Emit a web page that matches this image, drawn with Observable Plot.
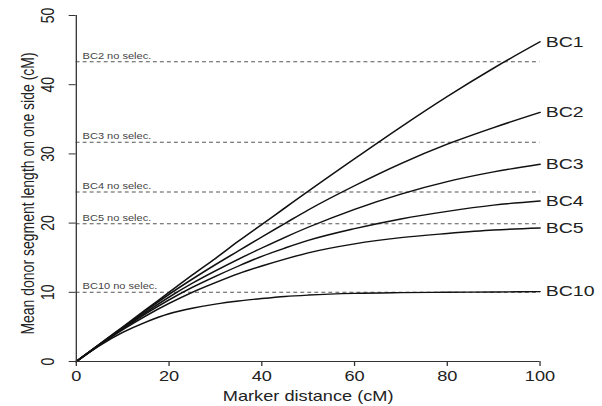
<!DOCTYPE html>
<html>
<head>
<meta charset="utf-8">
<script src="https://cdn.jsdelivr.net/npm/d3@7"></script>
<script src="https://cdn.jsdelivr.net/npm/@observablehq/plot@0.6"></script>
<style>
  html, body { margin: 0; padding: 0; background: #fff; }
  #chart { width: 463px; transform: scaleX(1.3); transform-origin: 0 0; }
</style>
</head>
<body>
<div id="chart"></div>
<script>
// Marker distance (cM)
const distances = [0, 5, 10, 15, 20, 25, 30, 35, 40, 45, 50, 60, 70, 80, 90, 100];
// Mean donor segment length on one side (cM)
const bc1  = [0, 2.5, 5.0, 7.5, 10.0, 12.5, 14.9, 17.4, 19.8, 22.2, 24.6, 29.3, 33.9, 38.3, 42.4, 46.2];
const bc2  = [0, 2.5, 4.9, 7.35, 9.7, 11.9, 14.0, 16.0, 18.0, 19.95, 21.9, 25.4, 28.6, 31.4, 33.8, 36.0];
const bc3  = [0, 2.45, 4.8, 7.1, 9.3, 11.3, 13.1, 14.8, 16.4, 17.95, 19.4, 22.0, 24.2, 26.0, 27.4, 28.5];
const bc4  = [0, 2.4, 4.7, 6.9, 8.9, 10.7, 12.3, 13.8, 15.2, 16.4, 17.5, 19.2, 20.6, 21.7, 22.6, 23.2];
const bc5  = [0, 2.4, 4.6, 6.6, 8.4, 10.0, 11.4, 12.7, 13.8, 14.8, 15.7, 17.0, 17.9, 18.5, 19.0, 19.3];
const bc10 = [0, 2.3, 4.2, 5.7, 6.9, 7.7, 8.3, 8.75, 9.1, 9.4, 9.6, 9.85, 9.95, 10.0, 10.05, 10.1];
const seriesNames = ["BC1", "BC2", "BC3", "BC4", "BC5", "BC10"];
const seriesValues = [bc1, bc2, bc3, bc4, bc5, bc10];

// No-selection reference levels
const noSelecLabels = ["BC2 no selec.", "BC3 no selec.", "BC4 no selec.", "BC5 no selec.", "BC10 no selec."];
const noSelecLevels = [43.3, 31.7, 24.5, 19.9, 10.0];

// Axes
const xTicks = [0, 20, 40, 60, 80, 100];
const yTicks = [0, 10, 20, 30, 40, 50];
const xLabel = "Marker distance (cM)";
const yLabel = "Mean donor segment length on one side (cM)";

const table = seriesNames.flatMap((s, i) =>
  distances.map((d, j) => ({series: s, d, v: seriesValues[i][j]})));
const ends = seriesNames.map((s, i) => ({series: s, d: distances[distances.length - 1], v: seriesValues[i][seriesValues[i].length - 1]}));
const refs = noSelecLabels.map((l, i) => ({label: l, v: noSelecLevels[i]}));

const chart = Plot.plot({
  width: 463,
  height: 406,
  marginLeft: 58.2,
  marginRight: 48.1,
  marginTop: 15,
  marginBottom: 45,
  style: {fontFamily: "'Liberation Sans', Arial, Helvetica, sans-serif", fontSize: "14px", color: "#222", background: "#fff"},
  x: {domain: [0, 100]},
  y: {domain: [0, 50]},
  marks: [
    Plot.ruleY(refs, {y: "v", stroke: "#555", strokeWidth: 1, strokeDasharray: "3,2.4"}),
    Plot.text(refs, {x: 0, y: "v", text: "label", textAnchor: "start", dx: 4.8, dy: -6, fontSize: 8.5, fill: "#444"}),
    Plot.line(table, {x: "d", y: "v", z: "series", stroke: "#111", strokeWidth: 1.4, curve: "monotone-x"}),
    Plot.text(ends, {x: "d", y: "v", text: "series", textAnchor: "start", dx: 4.4, fontSize: 15, fill: "#222"}),
    Plot.ruleY([0], {stroke: "#333"}),
    Plot.ruleX([0], {stroke: "#333"}),
    Plot.axisX({ticks: xTicks, tickSize: 5, tickPadding: 5, fontSize: 14, label: null, stroke: "#333"}),
    Plot.axisY({ticks: yTicks, tickSize: 5.4, tickPadding: 12, tickRotate: -90, fontSize: 14, label: null, stroke: "#333"}),
    Plot.text([xLabel], {frameAnchor: "bottom", textAnchor: "middle", lineAnchor: "middle", dy: 35, fontSize: 14, fill: "#222"}),
    Plot.text([yLabel], {frameAnchor: "left", textAnchor: "middle", lineAnchor: "middle", dx: -37.4, dy: 5, rotate: -90, fontSize: 14, fill: "#222"})
  ]
});
document.getElementById("chart").appendChild(chart);
</script>
</body>
</html>
